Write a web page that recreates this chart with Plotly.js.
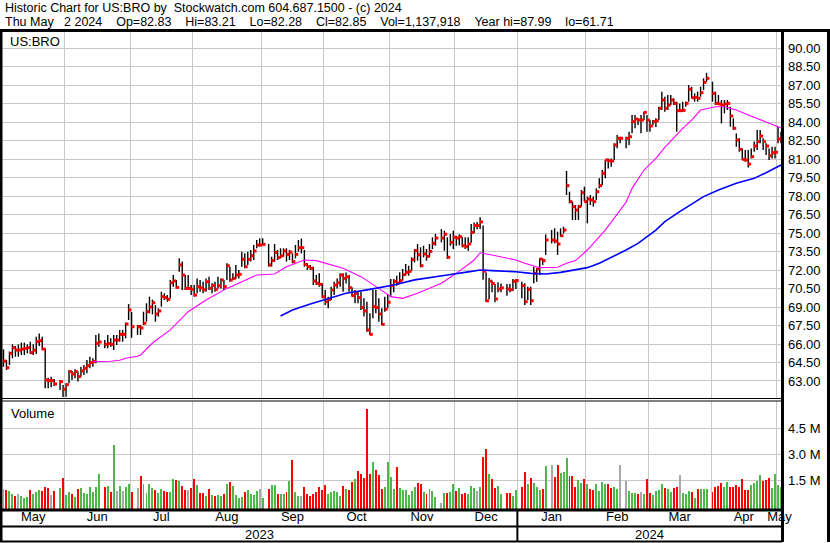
<!DOCTYPE html>
<html><head><meta charset="utf-8">
<script src="https://cdn.plot.ly/plotly-3.0.1.min.js"></script>
<style>html,body{margin:0;padding:0;background:#fff;}#chart{width:830px;height:543px;}</style>
</head><body><div id="chart"></div>
<script>
// ---------------- DATA ----------------
const tradeStart = '2023-05-03';
const tradeEnd = '2024-05-02';
const holidays = ['2023-05-29','2023-06-19','2023-07-04','2023-09-04','2023-11-23','2023-12-25','2024-01-01','2024-01-15','2024-02-19','2024-03-29'];

const high = [
65.57,64.70,65.38,65.97,65.84,65.97,66.11,66.11,65.97,66.19,65.97,66.59,66.86,66.59,65.65,63.27,63.35,63.16,63.08,62.68,
62.81,63.89,63.81,63.95,63.76,64.16,64.30,64.70,64.97,64.84,66.73,66.86,66.32,66.73,66.46,66.73,66.73,67.14,67.14,67.73,69.24,
68.60,67.54,67.54,68.62,69.30,69.84,69.60,69.16,68.89,70.24,70.11,69.97,71.19,71.59,71.19,72.95,72.68,71.59,71.59,70.78,
70.78,71.32,71.19,71.05,71.32,71.46,70.92,71.05,71.46,71.32,71.19,72.54,72.27,71.73,72.41,72.00,73.49,73.35,73.49,73.62,74.03,74.43,74.57,
74.57,74.11,73.08,74.11,73.62,73.76,73.76,73.76,73.62,73.35,74.03,74.43,74.55,73.62,72.54,72.41,72.27,71.59,71.73,70.92,
70.38,69.84,70.65,71.05,71.32,71.73,71.73,71.80,71.59,70.60,70.38,70.24,70.24,69.70,69.43,68.49,70.38,70.38,69.70,68.89,69.84,70.05,
71.27,71.27,71.54,71.81,72.08,72.49,72.35,73.03,73.70,74.11,73.84,73.97,73.70,74.11,74.65,74.92,75.32,75.19,74.65,74.92,75.19,
74.78,74.90,74.65,74.65,74.65,75.73,75.86,75.90,76.27,75.60,71.80,71.35,71.14,70.86,71.00,70.90,70.86,70.86,71.27,71.27,
71.05,70.92,70.65,70.65,72.27,72.14,72.95,72.95,74.89,75.24,75.38,75.11,75.38,75.51,80.03,78.35,77.54,77.27,77.27,78.49,78.76,
77.95,78.08,77.95,78.62,79.43,80.11,80.92,81.05,81.05,82.27,82.95,82.81,82.81,83.22,84.57,84.57,84.30,84.57,84.84,84.57,
84.16,84.16,84.30,85.24,86.46,86.05,86.19,86.19,85.92,85.65,85.51,85.65,85.65,87.00,86.86,86.32,86.46,86.86,87.54,87.99,
87.27,86.46,86.19,85.78,85.78,85.78,85.24,84.30,83.08,82.68,81.86,81.73,81.73,81.86,82.41,83.35,83.35,82.68,82.27,81.86,82.00,82.00,83.62,83.21
];
const low = [
64.16,63.89,64.30,64.84,64.97,64.97,65.11,65.11,65.24,65.19,65.11,65.19,65.84,65.51,62.41,62.41,62.49,62.59,62.27,61.71,
61.73,62.81,63.08,63.22,62.95,63.35,63.49,63.62,64.03,64.16,64.43,65.78,65.65,65.65,65.78,65.51,65.92,66.19,66.19,66.46,67.95,
66.50,66.73,66.73,67.54,67.81,68.49,68.40,67.81,68.22,69.03,69.57,69.43,69.70,70.65,70.51,71.86,70.38,70.38,70.38,69.97,
69.84,70.11,70.24,70.11,70.24,70.38,70.11,70.24,70.51,70.51,70.38,71.19,71.05,71.19,71.27,71.32,72.27,72.14,72.41,72.68,72.81,73.76,73.89,
74.03,72.27,72.27,72.68,72.81,72.95,73.08,72.68,72.81,72.54,72.95,73.49,73.35,72.27,72.00,72.00,70.78,70.78,70.65,69.70,
69.16,68.89,69.57,69.97,70.51,70.65,70.24,70.90,70.24,69.84,69.30,69.30,68.76,68.22,67.00,66.73,68.08,68.49,67.81,67.54,68.62,68.89,
69.92,70.19,70.73,70.86,71.14,71.54,71.54,71.95,72.62,72.76,72.22,73.03,72.76,73.03,73.70,73.97,74.24,73.57,72.89,73.97,73.70,
73.97,74.00,73.84,73.70,73.57,74.20,75.00,75.30,75.32,71.20,69.40,69.60,70.20,69.38,70.19,70.20,69.92,70.19,70.30,70.46,
69.70,69.16,69.57,69.16,70.92,71.05,71.59,72.41,73.22,74.16,74.16,73.22,74.70,74.97,78.08,77.40,76.05,76.05,76.05,77.14,77.54,
75.78,77.27,77.14,77.68,78.62,78.89,79.43,80.24,80.38,80.92,81.87,82.27,81.87,82.14,83.08,83.49,83.76,83.08,84.16,83.22,
83.22,83.76,83.60,84.16,84.97,84.84,84.97,85.38,85.38,83.22,84.84,84.84,85.24,85.65,85.92,85.65,85.65,86.05,86.59,87.27,
85.65,85.38,85.38,83.89,84.70,84.97,83.62,83.35,82.00,81.59,80.92,80.78,80.32,81.05,81.59,81.73,82.27,81.73,81.32,80.92,81.05,81.05,82.27,82.28
];
const close = [
64.62,64.08,65.24,65.70,65.51,65.51,65.59,65.65,65.70,65.30,65.50,66.19,66.27,65.59,63.08,63.03,63.03,62.76,62.95,62.32,
62.70,63.76,63.57,63.76,63.35,63.81,64.03,64.24,64.49,64.57,66.05,66.16,65.97,66.03,65.97,66.32,66.32,66.78,66.78,67.62,68.76,
67.40,67.40,67.30,67.68,68.62,69.00,69.35,68.43,68.68,69.84,69.76,69.62,70.97,71.11,70.59,72.41,71.59,70.51,70.51,70.43,
69.97,70.65,70.55,70.40,71.05,70.51,70.75,70.43,70.73,71.19,70.65,72.35,71.19,71.32,71.59,71.65,72.86,72.27,72.86,73.16,73.54,74.03,74.03,
74.08,72.41,72.76,73.43,73.00,73.14,73.54,73.27,73.45,72.68,73.27,73.81,73.81,72.46,72.27,72.14,71.11,70.92,70.84,69.84,
69.43,69.60,70.38,70.78,70.97,71.59,71.32,71.45,70.57,69.92,70.10,69.76,68.95,68.68,67.14,66.78,69.03,68.95,68.43,67.59,68.81,69.38,
70.73,71.08,70.95,71.14,71.62,71.81,71.89,72.84,73.57,73.24,72.35,73.30,73.10,73.51,74.16,74.59,74.59,74.90,73.03,74.24,74.65,
74.59,74.70,73.97,73.90,74.11,75.05,75.60,75.60,75.90,71.90,69.50,71.10,70.90,69.65,70.46,70.55,70.46,70.40,71.08,71.14,
70.73,69.43,70.43,69.51,71.73,72.10,72.89,72.76,74.43,74.43,74.35,74.11,74.78,75.24,78.84,77.54,77.14,76.86,77.14,78.27,77.54,
77.76,77.68,77.54,78.35,78.84,79.84,80.92,80.86,80.84,82.14,82.68,82.68,82.68,82.81,84.03,84.24,84.16,84.16,84.78,84.16,
83.68,84.03,84.10,85.11,85.78,85.11,85.38,85.78,85.51,84.92,84.92,84.95,85.51,86.65,85.97,86.00,85.92,86.38,87.22,87.54,
86.32,85.51,85.46,85.38,85.46,85.51,84.49,83.49,82.54,81.78,80.97,80.92,80.59,81.19,82.05,82.41,82.86,82.41,82.05,81.27,81.51,81.55,82.62,82.85
];
// volume in millions of shares
const volume = [
0.98,0.94,0.88,0.73,0.59,0.71,0.59,0.50,0.54,0.94,0.71,0.80,0.94,0.88,1.11,1.04,0.65,0.88,1.06,1.63,
0.65,0.83,0.71,0.54,1.00,1.06,0.75,0.73,1.11,0.84,1.11,1.86,1.13,1.17,0.83,3.54,0.88,1.17,0.88,1.11,1.29,
0.83,1.06,1.75,1.29,0.79,1.29,1.08,0.96,0.79,1.00,0.88,0.83,0.83,1.58,1.52,1.46,1.17,0.94,0.94,1.06,
1.58,1.25,0.79,0.79,0.59,1.00,0.65,0.59,0.65,0.59,0.71,1.29,1.40,1.17,0.65,0.50,0.54,0.83,0.94,0.71,0.65,0.88,1.00,
0.48,1.00,1.23,1.23,0.71,0.71,0.71,0.83,1.46,2.67,0.83,0.59,0.59,1.11,0.71,0.59,0.71,0.83,1.11,0.94,
1.23,0.71,0.83,0.88,0.83,0.59,1.17,1.00,0.94,1.40,1.58,2.04,1.86,1.63,5.61,1.86,2.55,2.09,1.81,1.00,1.11,2.55,
1.69,1.00,2.27,1.06,0.94,0.94,0.65,0.88,1.11,1.34,1.29,0.83,0.73,1.00,0.88,0.54,0.19,0.77,0.77,0.83,1.29,
0.88,1.06,0.71,0.77,0.71,1.17,1.06,0.88,1.10,2.84,3.29,1.86,1.58,1.06,1.17,0.71,0.77,0.77,0.59,0.94,
1.11,1.98,1.29,1.63,1.34,1.11,0.94,1.00,2.33,2.38,1.69,2.38,1.92,1.98,2.79,1.75,1.75,1.11,1.52,1.34,1.58,
1.29,1.00,0.94,1.29,0.88,1.40,1.29,1.29,1.06,1.11,1.00,2.38,1.46,0.88,0.77,0.77,0.71,0.83,0.71,1.58,
0.77,0.65,0.88,0.94,1.29,1.06,1.00,0.83,1.06,1.11,1.81,0.77,0.71,0.88,0.83,0.48,1.00,1.00,1.00,1.00,
0.83,1.11,1.17,1.34,1.11,1.40,1.11,1.11,1.23,1.11,1.58,0.94,0.94,1.23,1.34,1.46,1.81,1.46,1.52,1.63,1.06,1.86,1.23,1.14
];
// moving averages
const maFastDates = ['2023-06-14','2023-06-22','2023-06-27','2023-06-29','2023-07-05','2023-07-06','2023-07-12','2023-07-20','2023-07-28','2023-08-07','2023-08-16','2023-08-30','2023-09-07','2023-09-13','2023-09-21','2023-09-27','2023-10-10','2023-10-18','2023-10-26','2023-11-01','2023-11-07','2023-11-14','2023-11-24','2023-12-01','2023-12-11','2023-12-13','2023-12-19','2023-12-29','2024-01-03','2024-01-10','2024-01-18','2024-01-23','2024-01-26','2024-02-01','2024-02-09','2024-02-20','2024-02-22','2024-02-28','2024-03-05','2024-03-08','2024-03-18','2024-03-21','2024-03-26','2024-04-02','2024-04-05','2024-04-11','2024-04-17','2024-04-25','2024-05-01','2024-05-02'];
const maFastValues = [64.57,64.60,64.68,64.85,65.00,65.11,66.08,67.14,68.62,69.57,70.51,71.59,71.68,72.27,72.81,72.76,72.14,71.46,70.51,69.84,69.70,70.11,70.92,71.73,72.81,73.40,73.22,72.81,72.54,72.19,72.22,72.54,72.76,73.62,75.24,77.50,78.62,80.11,81.05,81.95,83.49,84.16,84.97,85.24,85.24,84.97,84.57,83.97,83.62,83.55];
const maSlowDates = ['2023-09-11','2023-09-15','2023-09-25','2023-10-03','2023-10-11','2023-10-23','2023-11-02','2023-11-13','2023-11-20','2023-11-28','2023-12-07','2023-12-13','2023-12-19','2023-12-29','2024-01-05','2024-01-12','2024-01-19','2024-01-25','2024-02-01','2024-02-07','2024-02-15','2024-02-20','2024-02-26','2024-03-05','2024-03-08','2024-03-15','2024-03-27','2024-04-03','2024-04-11','2024-04-19','2024-04-25','2024-05-02'];
const maSlowValues = [68.27,68.76,69.24,69.70,70.11,70.43,70.78,71.20,71.40,71.60,71.85,72.00,71.95,71.86,71.73,71.68,71.81,72.00,72.19,72.54,73.22,73.62,74.16,75.24,75.92,76.73,77.95,78.49,79.03,79.43,79.89,80.51];

const volTickVals = [1.5, 3.0, 4.5];
const volTickText = ['1.5 M', '3.0 M', '4.5 M'];
const headerLine1 = 'Historic Chart for US:BRO by  Stockwatch.com 604.687.1500 - (c) 2024';
const headerLine2 = 'Thu May   2 2024    Op=82.83    Hi=83.21    Lo=82.28    Cl=82.85    Vol=1,137,918    Year hi=87.99    lo=61.71';
const symbolLabel = 'US:BRO';
const volumeLabel = 'Volume';
const monthNames = ['Jan','Feb','Mar','Apr','May','Jun','Jul','Aug','Sep','Oct','Nov','Dec'];

// ---------------- CALENDAR ----------------
function iso(d){ return d.toISOString().slice(0,10); }
function weekdaysBetween(a,b){
  const out=[]; const d=new Date(a+'T00:00:00Z'); const e=new Date(b+'T00:00:00Z');
  while(d<=e){ const w=d.getUTCDay(); if(w!==0&&w!==6) out.push(iso(d)); d.setUTCDate(d.getUTCDate()+1); }
  return out;
}
const weekdays = weekdaysBetween(tradeStart, tradeEnd);
const dates = weekdays.filter(d => !holidays.includes(d));
if (dates.length !== close.length) console.error('length mismatch', dates.length, close.length);

const noon = d => d + ' 12:00';
const xRange = [tradeStart + ' 00:00', tradeEnd + ' 20:00'];

function groupBy(list, keyFn){ const m=new Map(); list.forEach(d=>{const k=keyFn(d); if(!m.has(k)) m.set(k,[]); m.get(k).push(d);}); return m; }
function middleOf(arr){ const n=arr.length; return n%2 ? arr[(n-1)/2]+' 12:00' : arr[n/2]+' 00:00'; }
const allWeekdays = weekdaysBetween('2023-05-01','2024-05-31');
const monthStarts = [...groupBy(allWeekdays, d=>d.slice(0,7)).values()].map(a=>a[0]+' 00:00');
const monthGroups = groupBy(weekdays, d=>d.slice(0,7));
const monthLabelPos = [...monthGroups.values()].map(middleOf);
const monthLabelText = [...monthGroups.keys()].map(k=>monthNames[+k.slice(5,7)-1]);
const yearGroups = groupBy(weekdays, d=>d.slice(0,4));
const yearLabelPos = [...yearGroups.values()].map(middleOf);
const yearLabelText = [...yearGroups.keys()];
const yearStart2024 = allWeekdays.find(d=>d.startsWith('2024')) + ' 00:00';

// ---------------- TRACES ----------------
const hlX=[], hlY=[];
dates.forEach((d,i)=>{ hlX.push(noon(d),noon(d),null); hlY.push(low[i],high[i],null); });
const closeX = dates.map(d => d + ' 23:00');
const GREEN='#4cb848', RED='#ff0000', GREY='#a8a8a8';
const volColors = close.map((c,i)=> i===0 ? GREY : (c>close[i-1] ? GREEN : (c<close[i-1] ? RED : GREY)));
const volRange = [-0.156, 6.076];

const traces = [
  {type:'scatter', mode:'lines', x:hlX, y:hlY, xaxis:'x2', yaxis:'y', line:{color:'#000', width:1.4}, connectgaps:false, hoverinfo:'skip'},
  {type:'scatter', mode:'markers', x:closeX, y:close, xaxis:'x2', yaxis:'y', marker:{symbol:'square', size:3, color:RED, line:{width:0}}, hoverinfo:'skip'},
  {type:'scatter', mode:'lines', x:maFastDates.map(noon), y:maFastValues, xaxis:'x2', yaxis:'y', line:{color:'#ff00ff', width:1.1}, hoverinfo:'skip'},
  {type:'scatter', mode:'lines', x:maSlowDates.map(noon), y:maSlowValues, xaxis:'x2', yaxis:'y', line:{color:'#0000ff', width:1.6}, hoverinfo:'skip'},
  {type:'bar', x:dates.map(noon), y:volume.map(v=>v-volRange[0]), base:volRange[0], xaxis:'x', yaxis:'y2', marker:{color:volColors, line:{width:0}}, width:0.66*86400000, hoverinfo:'skip'}
];

// ---------------- LAYOUT ----------------
const W=830, H=543, ML=2, MR=48, MT=31, MB=34;
const PW=W-ML-MR, PH=H-MT-MB;
const py = p => (H-MB-p)/PH;
const px = p => (p-ML)/PW;
const FONT='Liberation Sans, Arial, Helvetica, sans-serif';
const GRID='#c8c8c8';
const rb=[{bounds:['sat','mon']}];
const minorGrid={tickmode:'array', tickvals:monthStarts, showgrid:true, gridcolor:GRID, gridwidth:1, ticks:''};

const line=(x0,y0,x1,y1,w,xref)=>({type:'line', xref:xref||'paper', yref:'paper', x0:x0, y0:y0, x1:x1, y1:y1, line:{color:'#000', width:w}, layer:'above'});
const shapes=[
  line(px(-2),py(30.5),px(832),py(30.5),3),
  line(px(1),py(30),px(1),py(542),3),
  line(px(782.5),py(30),px(782.5),py(542),3),
  line(px(828.5),py(30),px(828.5),py(542),3),
  line(px(0),py(398.5),px(782),py(398.5),1),
  line(px(0),py(401),px(782),py(401),1),
  line(px(0),py(510),px(782),py(510),3),
  line(px(0),py(526.5),px(782),py(526.5),2),
  line(px(0),py(541.5),px(782),py(541.5),2),
  {type:'line', xref:'x', yref:'paper', x0:yearStart2024, x1:yearStart2024, y0:py(510), y1:py(542), line:{color:'#000', width:2}, layer:'above'}
];

const annotations=[
  {xref:'paper', yref:'paper', x:px(3), y:py(8), xanchor:'left', yanchor:'middle', showarrow:false, text:headerLine1.replace(/ /g,'\u00a0'), font:{size:12.5}},
  {xref:'paper', yref:'paper', x:px(3), y:py(22.5), xanchor:'left', yanchor:'middle', showarrow:false, text:headerLine2.replace(/ /g,'\u00a0'), font:{size:12.5}},
  {xref:'paper', yref:'paper', x:px(8), y:py(42), xanchor:'left', yanchor:'middle', showarrow:false, text:symbolLabel, font:{size:13}},
  {xref:'paper', yref:'paper', x:px(9), y:py(413), xanchor:'left', yanchor:'middle', showarrow:false, text:volumeLabel, font:{size:13}}
];
yearLabelPos.forEach((p,i)=>annotations.push({xref:'x', yref:'paper', x:p, y:py(534.5), xanchor:'center', yanchor:'middle', showarrow:false, text:yearLabelText[i], font:{size:13}}));

const layout={
  width:W, height:H, margin:{l:ML, r:MR, t:MT, b:MB, pad:0},
  paper_bgcolor:'#fff', plot_bgcolor:'#fff', showlegend:false,
  font:{family:FONT, size:13, color:'#000'},
  xaxis:{type:'date', anchor:'y2', domain:[0,1], range:xRange, rangebreaks:rb,
    tickmode:'array', tickvals:monthLabelPos, ticktext:monthLabelText, showgrid:false, zeroline:false, showline:false, ticks:'',
    tickfont:{size:13}, ticklabelstandoff:-2, minor:minorGrid, fixedrange:true},
  xaxis2:{type:'date', anchor:'y', domain:[0,1], matches:'x', range:xRange, rangebreaks:rb, showticklabels:false,
    tickmode:'array', tickvals:monthLabelPos, showgrid:false, zeroline:false, showline:false, ticks:'', minor:minorGrid},
  yaxis:{domain:[py(399),1], range:[61.54,91.38], side:'right', anchor:'x2', tickmode:'linear', tick0:0, dtick:1.5, tickformat:'.2f',
    showgrid:true, gridcolor:GRID, gridwidth:1, zeroline:false, showline:false, ticks:'', ticklabelstandoff:5, tickfont:{size:13}},
  yaxis2:{domain:[0,py(401)], range:volRange, side:'right', anchor:'x', tickmode:'array', tickvals:volTickVals, ticktext:volTickText,
    showgrid:true, gridcolor:GRID, gridwidth:1, zeroline:false, showline:false, ticks:'', ticklabelstandoff:5, tickfont:{size:13}},
  bargap:0, shapes:shapes, annotations:annotations
};

Plotly.newPlot('chart', traces, layout, {staticPlot:true, displayModeBar:false});
</script>
</body></html>
